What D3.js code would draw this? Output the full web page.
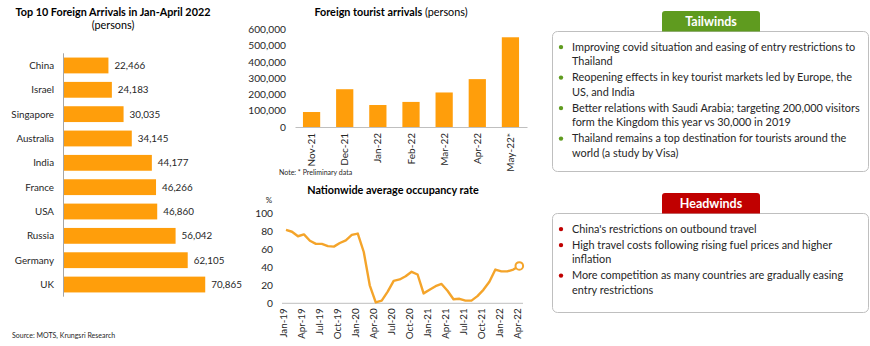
<!DOCTYPE html>
<html><head><meta charset="utf-8">
<script src="https://cdn.jsdelivr.net/npm/d3@7"></script>
<style>
body{margin:0;background:#fff}
svg{display:block;font-family:Lato,"Open Sans",sans-serif}
</style>
</head><body>
<svg id="c" width="870" height="346"></svg>
<script>
// ---------- data ----------
const countries = ["China","Israel","Singapore","Australia","India","France","USA","Russia","Germany","UK"];
const arrivals = [22466,24183,30035,34145,44177,46266,46860,56042,62105,70865];

const months = ["Nov-21","Dec-21","Jan-22","Feb-22","Mar-22","Apr-22","May-22*"];
const monthlyArrivals = [92000,232000,135000,154000,212000,294000,551000];
const arrivalTicks = [0,100000,200000,300000,400000,500000,600000];

const occMonths = ["Jan-19","Feb-19","Mar-19","Apr-19","May-19","Jun-19","Jul-19","Aug-19","Sep-19","Oct-19","Nov-19","Dec-19",
  "Jan-20","Feb-20","Mar-20","Apr-20","May-20","Jun-20","Jul-20","Aug-20","Sep-20","Oct-20","Nov-20","Dec-20",
  "Jan-21","Feb-21","Mar-21","Apr-21","May-21","Jun-21","Jul-21","Aug-21","Sep-21","Oct-21","Nov-21","Dec-21",
  "Jan-22","Feb-22","Mar-22","Apr-22"];
const occupancy = [81.5,79.5,74.5,76.5,69.5,66,66,63.5,63,67,70,76,
  77.5,57,20,1,3,13,25,26.5,30,35,32,11,
  15,19,21.5,14,4.5,5,3,3,8,15,24,37.5,
  35.5,35.5,37.5,41.5];
const occTicks = [0,20,40,60,80,100];
const occTickLabels = ["Jan-19","Apr-19","Jul-19","Oct-19","Jan-20","Apr-20","Jul-20","Oct-20","Jan-21","Apr-21","Jul-21","Oct-21","Jan-22","Apr-22"];

const tailwinds = [
  ["Improving covid situation and easing of entry restrictions to","Thailand"],
  ["Reopening effects in key tourist markets led by Europe, the","US, and India"],
  ["Better relations with Saudi Arabia; targeting 200,000 visitors","form the Kingdom this year vs 30,000 in 2019"],
  ["Thailand remains a top destination for tourists around the","world (a study by Visa)"]
];
const headwinds = [
  ["China's restrictions on outbound travel"],
  ["High travel costs following rising fuel prices and higher","inflation"],
  ["More competition as many countries are gradually easing","entry restrictions"]
];

// ---------- styles ----------
const ORANGE = "#FF9E0B";
const LINE = "#F4A42A";
const TXT = "#262626";
const AXIS = "#BFBFBF";
const GREEN = "#5F9B1F";
const RED = "#C00000";
const fmt = d3.format(",");

const svg = d3.select("#c");

// ---------- left: top 10 ----------
{
  const g = svg.append("g");
  const x = d3.scaleLinear().domain([0,80000]).range([63.5,223.5]);
  const y = d3.scaleBand().domain(countries).range([53.3,296.7]).paddingInner(0.35).paddingOuter(0.175);
  g.append("text").attr("x",113).attr("y",16).attr("text-anchor","middle")
    .attr("font-weight","bold").attr("font-size",10.8).attr("fill","#000").text("Top 10 Foreign Arrivals in Jan-April 2022");
  g.append("text").attr("x",113).attr("y",29).attr("text-anchor","middle")
    .attr("font-size",10.8).attr("fill","#000").text("(persons)");
  g.selectAll("rect").data(countries).join("rect")
    .attr("x",x(0)).attr("y",d=>y(d)).attr("width",(d,i)=>x(arrivals[i])-x(0))
    .attr("height",y.bandwidth()).attr("fill",ORANGE);
  g.append("line").attr("x1",x(0)).attr("x2",x(0)).attr("y1",53.3).attr("y2",296.7).attr("stroke","#A6A6A6");
  g.selectAll(".cat").data(countries).join("text").attr("class","cat")
    .attr("x",54).attr("y",d=>y(d)+y.bandwidth()/2).attr("dy","0.35em")
    .attr("text-anchor","end").attr("font-size",9.8).attr("fill",TXT).text(d=>d);
  g.selectAll(".val").data(countries).join("text").attr("class","val")
    .attr("x",(d,i)=>x(arrivals[i])+6).attr("y",d=>y(d)+y.bandwidth()/2).attr("dy","0.35em")
    .attr("font-size",9.8).attr("fill",TXT).text((d,i)=>fmt(arrivals[i]));
  g.append("text").attr("x",12).attr("y",338).attr("font-size",7).attr("fill",TXT).text("Source: MOTS, Krungsri Research");
}

// ---------- middle top: monthly arrivals ----------
{
  const g = svg.append("g");
  const x = d3.scaleBand().domain(months).range([295,527]).paddingInner(0.48).paddingOuter(0.24);
  const y = d3.scaleLinear().domain([0,600000]).range([127,29.3]);
  const t = g.append("text").attr("x",391).attr("y",15.5).attr("text-anchor","middle").attr("font-size",10.8).attr("fill","#000");
  t.append("tspan").attr("font-weight","bold").text("Foreign tourist arrivals");
  t.append("tspan").text(" (persons)");
  g.selectAll("rect").data(months).join("rect")
    .attr("x",d=>x(d)).attr("width",x.bandwidth())
    .attr("y",(d,i)=>y(monthlyArrivals[i])).attr("height",(d,i)=>y(0)-y(monthlyArrivals[i]))
    .attr("fill",ORANGE);
  const ya = g.append("g").attr("transform","translate(295,0)")
    .call(d3.axisLeft(y).tickValues(arrivalTicks).tickFormat(fmt).tickSize(0).tickPadding(9));
  ya.select(".domain").remove();
  ya.selectAll("text").attr("font-family","Lato").attr("font-size",10.2).attr("fill",TXT);
  const xa = g.append("g").attr("transform","translate(0,127)")
    .call(d3.axisBottom(x).tickSize(0).tickPadding(0));
  xa.select(".domain").attr("stroke",AXIS);
  xa.selectAll("text").attr("font-family","Lato").attr("font-size",10).attr("fill",TXT)
    .attr("transform","rotate(-90)").attr("text-anchor","end").attr("x",-6).attr("y",0).attr("dy","0.35em");
  g.append("text").attr("x",279).attr("y",175).attr("font-size",7).attr("fill",TXT).text("Note: * Preliminary data");
}

// ---------- middle bottom: occupancy ----------
{
  const g = svg.append("g");
  const x = d3.scalePoint().domain(occMonths).range([286,519.3]);
  const y = d3.scaleLinear().domain([0,100]).range([303.3,213.3]);
  g.append("text").attr("x",393).attr("y",194).attr("text-anchor","middle").attr("font-weight","bold")
    .attr("font-size",10.8).attr("fill","#000").text("Nationwide average occupancy rate");
  g.append("text").attr("x",269).attr("y",203).attr("text-anchor","middle").attr("font-size",8).attr("fill",TXT).text("%");
  const ya = g.append("g").attr("transform","translate(282,0)")
    .call(d3.axisLeft(y).tickValues(occTicks).tickSize(0).tickPadding(9));
  ya.select(".domain").remove();
  ya.selectAll("text").attr("font-family","Lato").attr("font-size",10.2).attr("fill",TXT);
  g.append("line").attr("x1",282).attr("x2",523).attr("y1",y(0)).attr("y2",y(0)).attr("stroke",AXIS);
  g.selectAll(".xl").data(occTickLabels).join("text").attr("class","xl")
    .attr("transform",d=>`translate(${x(d)-2},${y(0)+5}) rotate(-90)`)
    .attr("text-anchor","end").attr("dy","0.35em").attr("font-size",9.8).attr("fill",TXT).text(d=>d);
  const line = d3.line().x((d,i)=>x(occMonths[i])).y(d=>y(d));
  g.append("path").datum(occupancy).attr("d",line).attr("fill","none").attr("stroke",LINE)
    .attr("stroke-width",2.4).attr("stroke-linejoin","round");
  const last = occupancy.length-1;
  g.append("circle").attr("cx",x(occMonths[last])).attr("cy",y(occupancy[last])).attr("r",3.8)
    .attr("fill","#fff").attr("stroke",LINE).attr("stroke-width",2);
}

// ---------- right panels ----------
function panel(title, color, items, headTop, boxBottom){
  const g = svg.append("g");
  const boxTop = headTop + 20.5;
  g.append("rect").attr("x",552.5).attr("y",boxTop).attr("width",316).attr("height",boxBottom-boxTop)
    .attr("rx",5).attr("fill","#fff").attr("stroke","#BFBFBF");
  g.append("path").attr("d",`M662,${headTop+20.5} V${headTop+3} Q662,${headTop} 665,${headTop} H757 Q760,${headTop} 760,${headTop+3} V${headTop+20.5} Z`)
    .attr("fill",color);
  g.append("text").attr("x",711).attr("y",headTop+14.5).attr("text-anchor","middle").attr("font-weight","bold")
    .attr("font-size",12.5).attr("fill","#fff").text(title);
  let yy = boxTop + 19;
  items.forEach(lines=>{
    g.append("circle").attr("cx",561).attr("cy",yy-3.4).attr("r",2.2).attr("fill",color);
    lines.forEach(l=>{
      g.append("text").attr("x",572).attr("y",yy).attr("font-size",10.9).attr("fill",TXT).text(l);
      yy += 14.5;
    });
    yy += 1.5;
  });
}
panel("Tailwinds", GREEN, tailwinds, 11, 171.5);
panel("Headwinds", RED, headwinds, 193, 312.5);
</script>
</body></html>
